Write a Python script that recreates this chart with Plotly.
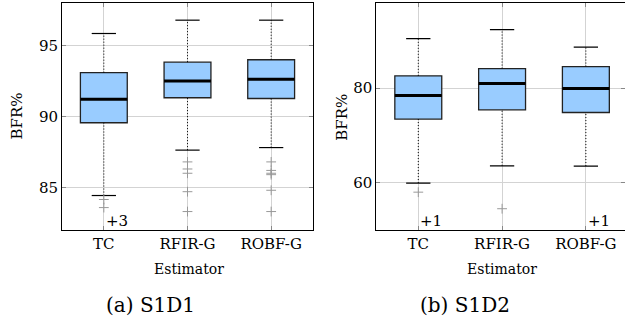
import plotly.graph_objects as go

estimators = ["TC", "RFIR-G", "ROBF-G"]

# Panel (a) S1D1
a_q1 = [89.56, 91.32, 91.27]
a_med = [91.21, 92.51, 92.63]
a_q3 = [93.09, 93.83, 94.00]
a_low = [84.43, 87.63, 87.81]
a_up = [95.85, 96.79, 96.79]
a_out = [[84.15, 83.58], [86.8, 86.3, 86.0, 84.7, 83.3], [86.8, 86.2, 86.0, 85.9, 84.8, 83.3]]
a_hidden = ["+3", "", ""]

# Panel (b) S1D2
b_q1 = [73.45, 75.42, 74.85]
b_med = [78.44, 80.97, 79.92]
b_q3 = [82.60, 84.14, 84.56]
b_low = [59.93, 63.58, 63.52]
b_up = [90.48, 92.38, 88.66]
b_out = [[58.0], [54.5], []]
b_hidden = ["+1", "", "+1"]

a_yticks = [85, 90, 95]
b_yticks = [60, 80]

FONT = "DejaVu Serif, Liberation Serif, serif"
FILL = "#99CCFF"
BOXW = 0.56
CAPW = 0.145

fig = go.Figure()


def add_panel(xa, ya, q1, med, q3, low, up, outs, hidden):
    xs = list(range(len(estimators)))
    xref, yref = xa.replace("axis", ""), ya.replace("axis", "")
    # whiskers (dotted)
    wx, wy = [], []
    for i in xs:
        wx += [i, i, None, i, i, None]
        wy += [q3[i], up[i], None, low[i], q1[i], None]
    fig.add_trace(go.Scatter(x=wx, y=wy, mode="lines", xaxis=xref, yaxis=yref,
                             line=dict(color="black", width=1, dash="1px,2px"),
                             showlegend=False, hoverinfo="skip"))
    # caps
    cx, cy = [], []
    for i in xs:
        cx += [i - CAPW, i + CAPW, None, i - CAPW, i + CAPW, None]
        cy += [up[i], up[i], None, low[i], low[i], None]
    fig.add_trace(go.Scatter(x=cx, y=cy, mode="lines", xaxis=xref, yaxis=yref,
                             line=dict(color="black", width=1.2),
                             showlegend=False, hoverinfo="skip"))
    # boxes
    fig.add_trace(go.Box(x=xs, q1=q1, median=med, q3=q3, lowerfence=q1, upperfence=q3,
                         xaxis=xref, yaxis=yref, width=BOXW, whiskerwidth=0,
                         fillcolor=FILL, line=dict(color="#222222", width=1.3),
                         showlegend=False, hoverinfo="skip"))
    # medians
    mx, my = [], []
    for i in xs:
        mx += [i - BOXW / 2, i + BOXW / 2, None]
        my += [med[i], med[i], None]
    fig.add_trace(go.Scatter(x=mx, y=my, mode="lines", xaxis=xref, yaxis=yref,
                             line=dict(color="black", width=3),
                             showlegend=False, hoverinfo="skip"))
    # outliers
    ox, oy = [], []
    for i in xs:
        for v in outs[i]:
            ox.append(i)
            oy.append(v)
    fig.add_trace(go.Scatter(x=ox, y=oy, mode="markers", xaxis=xref, yaxis=yref,
                             marker=dict(symbol="cross-thin", size=7,
                                         line=dict(color="#999999", width=1)),
                             showlegend=False, hoverinfo="skip"))
    for i in xs:
        if hidden[i]:
            fig.add_annotation(x=i, xref=xref, y=0, yref=yref + " domain",
                               xanchor="left", yanchor="bottom", xshift=0, yshift=-2,
                               text=hidden[i], showarrow=False,
                               font=dict(family=FONT, size=15, color="black"))


add_panel("xaxis", "yaxis", a_q1, a_med, a_q3, a_low, a_up, a_out, a_hidden)
add_panel("xaxis2", "yaxis2", b_q1, b_med, b_q3, b_low, b_up, b_out, b_hidden)

axis_common = dict(showline=True, linecolor="black", linewidth=1, mirror="ticks",
                   ticks="inside", ticklen=4, tickcolor="#888888",
                   showgrid=True, gridcolor="#d3d3d3", gridwidth=1, zeroline=False,
                   tickfont=dict(family=FONT, size=15, color="black"))

ytop = 1 - 3 / 322
ybot = 1 - 230 / 322

fig.update_layout(
    width=625, height=322, autosize=False,
    margin=dict(l=0, r=0, t=0, b=0),
    plot_bgcolor="white", paper_bgcolor="white",
    font=dict(family=FONT, color="black"),
    xaxis=dict(domain=[62 / 625, 313 / 625], range=[-0.5, 2.5], tickvals=[0, 1, 2],
               ticktext=estimators, anchor="y", **axis_common),
    yaxis=dict(domain=[ybot, ytop], range=[82, 98], tickvals=a_yticks, anchor="x",
               **axis_common),
    xaxis2=dict(domain=[376.4 / 625, 1.0], range=[-0.5, 2.467], tickvals=[0, 1, 2],
                ticktext=estimators, anchor="y2", **axis_common),
    yaxis2=dict(domain=[ybot, ytop], range=[50, 98], tickvals=b_yticks, anchor="x2",
                **axis_common),
)

labels = [
    ("BFR%", 16 / 625, 1 - 116.5 / 322, -90, 15),
    ("BFR%", 341.7 / 625, 1 - 117 / 322, -90, 15),
    ("Estimator", 188.5 / 625, 1 - 269 / 322, 0, 14),
    ("Estimator", 501.5 / 625, 1 - 269 / 322, 0, 14),
    ("(a) S1D1", 150 / 625, 1 - 305 / 322, 0, 20),
    ("(b) S1D2", 465 / 625, 1 - 305 / 322, 0, 20),
]
for txt, x, y, ang, sz in labels:
    fig.add_annotation(x=x, y=y, xref="paper", yref="paper", text=txt, showarrow=False,
                       textangle=ang, xanchor="center", yanchor="middle",
                       font=dict(family=FONT, size=sz, color="black"))

fig.write_html("out.html", config={"displayModeBar": False},
               post_script="document.body.style.margin='0';document.body.style.overflow='hidden';")
